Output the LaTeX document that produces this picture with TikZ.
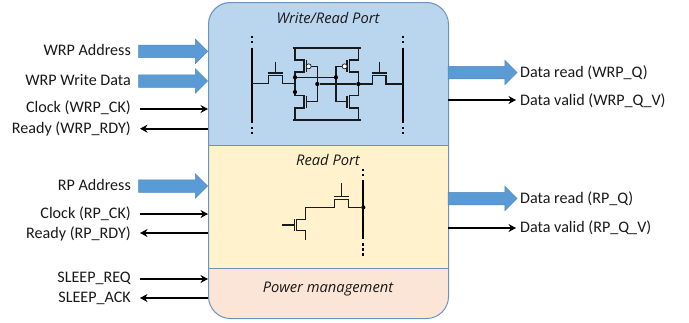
\documentclass[tikz,border=0pt]{standalone}
\usepackage{fontspec}
\setmainfont{Carlito}
\newfontfamily\titlefont{Open Sans}
\usetikzlibrary{shapes.arrows,arrows.meta}
\definecolor{wrfill}{HTML}{BAD5EE}
\definecolor{rfill}{HTML}{FFF2CC}
\definecolor{pfill}{HTML}{FBE5D6}
\definecolor{edgeblue}{HTML}{6E93B8}
\definecolor{arrowblue}{HTML}{5B9BD5}
\definecolor{arrowedge}{HTML}{4F86BC}
\definecolor{wire}{HTML}{1A1A1A}
\tikzset{
  x=1pt,y=-1pt,
  sig/.style={font=\fontsize{16.1}{18}\selectfont,inner sep=0pt,text=black!90},
  lsig/.style={sig,anchor=east},
  rsig/.style={sig,anchor=west},
  porttitle/.style={font=\titlefont\itshape\fontsize{14.7}{16}\selectfont,inner sep=0pt,text=black!90},
  busarrow/.style={single arrow,single arrow tip angle=90,single arrow head extend=6pt,
    minimum height=69pt,minimum width=24pt,inner sep=0pt,fill=arrowblue,draw=arrowedge,line width=.5pt},
  thinarrow/.style={line width=2pt,black,-{Stealth[length=7.5pt,width=8pt]}},
  fet/.style={line width=1.05pt,wire,line join=miter},
  bitline/.style={line width=2.3pt,black},
  bitdots/.style={line width=2.3pt,black,dash pattern=on 2.2pt off 2.8pt},
  junction/.style={circle,fill=black,inner sep=0pt,minimum size=4.2pt},
  bubble/.style={circle,fill=white,draw=wire,line width=.7pt,inner sep=0pt,minimum size=5pt},
}
\newcommand{\shaftstrut}{\rule{0pt}{12pt}}
\begin{document}
\begin{tikzpicture}
\useasboundingbox (0,0) rectangle (689,322);
% block
\begin{scope}
  \clip[rounded corners=22pt] (208,2) rectangle (448,318);
  \fill[wrfill] (208,2) rectangle (448,145);
  \fill[rfill] (208,145) rectangle (448,268);
  \fill[pfill] (208,268) rectangle (448,318);
  \draw[edgeblue,line width=.9pt] (208,145) -- (448,145);
  \draw[edgeblue,line width=.9pt] (208,268) -- (448,268);
\end{scope}
\node[draw=edgeblue,line width=1pt,rounded corners=22pt,minimum width=240pt,minimum height=316pt,inner sep=0pt,anchor=north west] (block) at (208,2) {};
\node[porttitle] (t1) at (328,18) {Write/Read Port};
\node[porttitle] (t2) at (328,160) {Read Port};
\node[porttitle] (t3) at (328,289) {Power management};

% left labels
\node[lsig] (wa) at (131,50) {WRP Address};
\node[lsig] (wd) at (131,80) {WRP Write Data};
\node[lsig] (wc) at (131,108) {Clock (WRP\_CK)};
\node[lsig] (wr) at (131,129) {Ready (WRP\_RDY)};
\node[lsig] (ra) at (131,185) {RP Address};
\node[lsig] (rc) at (131,214) {Clock (RP\_CK)};
\node[lsig] (rr) at (131,234) {Ready (RP\_RDY)};
\node[lsig] (sq) at (131,278) {SLEEP\_REQ};
\node[lsig] (sa) at (131,298) {SLEEP\_ACK};
% right labels
\node[rsig] (oq) at (520,73) {Data read (WRP\_Q)};
\node[rsig] (ov) at (520,101) {Data valid (WRP\_Q\_V)};
\node[rsig] (pq) at (520,199) {Data read (RP\_Q)};
\node[rsig] (pv) at (520,228) {Data valid (RP\_Q\_V)};

% bus arrows
\node[busarrow] (a1) at (170,51.3) {\shaftstrut};
\node[busarrow] (a2) at (170,81) {\shaftstrut};
\node[busarrow] (a3) at (170,186) {\shaftstrut};
\node[busarrow] (a4) at (479.5,72.5) {\shaftstrut};
\node[busarrow] (a5) at (479.5,198.5) {\shaftstrut};

% control arrows
\coordinate (bl1) at (208,109);
\coordinate (bl2) at (208,128.7);
\coordinate (bl3) at (208,214);
\coordinate (bl4) at (208,233);
\coordinate (bl5) at (208,279);
\coordinate (bl6) at (208,298);
\coordinate (br1) at (448,100);
\coordinate (br2) at (448,228);
\draw[thinarrow] (140,109) -- (bl1);
\draw[thinarrow] (bl2) -- (140,128.7);
\draw[thinarrow] (140,214) -- (bl3);
\draw[thinarrow] (bl4) -- (140,233);
\draw[thinarrow] (140,279) -- (bl5);
\draw[thinarrow] (bl6) -- (140,298);
\draw[thinarrow] (br1) -- (516,100);
\draw[thinarrow] (br2) -- (516,228);

% write/read cell, in coordinates of a 3x crop
\begin{scope}[shift={(230,25)},x=.3333pt,y=-.3333pt]
  \draw[bitline] (66,68) -- (66,295);
  \draw[bitline] (518,68) -- (518,295);
  \draw[bitdots] (66,33) -- (66,58);
  \draw[bitdots] (518,33) -- (518,58);
  \draw[bitdots] (66,306) -- (66,330);
  \draw[bitdots] (518,306) -- (518,330);
  % rails
  \draw[fet] (188,69) -- (392,69);
  \draw[fet] (188,285) -- (392,285);
  % access left
  \draw[fet] (66,176) -- (116,176) -- (116,152) -- (157,152) -- (157,176) -- (195,176);
  \draw[fet] (115,144) -- (158,144);
  \draw[fet] (137,112) -- (137,144);
  % access right
  \draw[fet] (385,177) -- (427,177) -- (427,152) -- (468,152) -- (468,177) -- (518,177);
  \draw[fet] (427,144) -- (470,144);
  \draw[fet] (449,112) -- (449,144);
  % left inverter
  \draw[fet] (195,69) -- (195,105) -- (222,105) -- (222,141) -- (195,141) -- (195,212) -- (222,212) -- (222,249) -- (195,249) -- (195,285);
  \draw[fet] (229,105) -- (229,141);
  \draw[fet] (229,212) -- (229,249);
  \draw[fet] (242,124) -- (262,124) -- (262,230) -- (229,230);
  \node[bubble] (bp1) at (236,124) {};
  % right inverter
  \draw[fet] (385,69) -- (385,105) -- (358,105) -- (358,141) -- (385,141) -- (385,212) -- (358,212) -- (358,249) -- (385,249) -- (385,285);
  \draw[fet] (351,105) -- (351,141);
  \draw[fet] (351,212) -- (351,249);
  \draw[fet] (338,124) -- (318,124) -- (318,230) -- (351,230);
  \node[bubble] (bp2) at (344,124) {};
  % cross-coupling
  \node[junction] (j1) at (195,157) {};
  \node[junction] (j2) at (318,157) {};
  \node[junction] (j3) at (262,177) {};
  \node[junction] (j4) at (385,177) {};
  \node[junction] (j5) at (195,201) {};
  \draw[fet] (j1) -- (j2);
  \draw[fet] (j3) -- (j4);
\end{scope}

% read cell
\begin{scope}[shift={(260,160)},x=.3333pt,y=-.3333pt]
  \draw[bitline] (310,60) -- (310,238);
  \draw[bitdots] (310,27) -- (310,50);
  \draw[bitdots] (310,250) -- (310,290);
  \node[junction] (j6) at (310,142) {};
  \draw[fet] (j6) -- (266,142) -- (266,118) -- (224,118) -- (224,142) -- (137,142) -- (137,178) -- (110,178) -- (110,212) -- (137,212) -- (137,240);
  \draw[fet] (222,110) -- (268,110);
  \draw[fet] (245,70) -- (245,110);
  \draw[fet] (103,178) -- (103,212);
  \draw[fet] (67,195) -- (103,195);
\end{scope}
\end{tikzpicture}
\end{document}
